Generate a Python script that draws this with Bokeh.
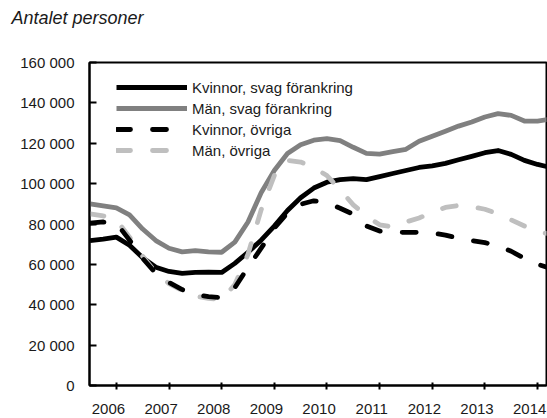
from bokeh.plotting import figure
from bokeh.models import FixedTicker, Legend, LegendItem, Range1d, Label
from bokeh.embed import file_html
from bokeh.resources import INLINE

# ---- data ----
periods = [2005.50, 2005.75, 2006.00, 2006.25, 2006.50, 2006.75, 2007.00, 2007.25, 2007.50,
           2007.75, 2008.00, 2008.25, 2008.50, 2008.75, 2009.00, 2009.25, 2009.50, 2009.75,
           2010.00, 2010.25, 2010.50, 2010.75, 2011.00, 2011.25, 2011.50, 2011.75, 2012.00,
           2012.25, 2012.50, 2012.75, 2013.00, 2013.25, 2013.50, 2013.75, 2014.00, 2014.25]

kvinnor_svag = [71800, 72500, 73500, 69500, 63300, 58600, 56500, 55500, 56000,
                56200, 56000, 60500, 66000, 72000, 79000, 86700, 93000, 97800,
                100700, 102000, 102500, 102000, 103500, 105000, 106500, 108000, 108800,
                110000, 111800, 113500, 115300, 116400, 114500, 111500, 109500, 108000]

man_svag = [90000, 89000, 88000, 84500, 77500, 71800, 68000, 66200, 66800,
            66200, 66000, 71000, 81000, 95500, 106500, 114900, 119300, 121500,
            122300, 121300, 118000, 115000, 114600, 115800, 117000, 121000, 123500,
            126000, 128500, 130500, 133000, 134700, 133800, 131000, 131000, 132000]

kvinnor_ovriga = [80400, 81000, 80500, 72000, 63000, 55500, 51000, 47500, 45000,
                  44000, 43500, 48500, 58500, 68000, 78000, 85500, 89800, 91500,
                  90500, 87800, 84800, 79000, 76500, 75900, 75900, 75900, 75500,
                  74500, 73000, 71800, 70800, 69000, 66500, 63000, 60000, 58000]

man_ovriga = [85000, 84000, 82000, 73500, 64000, 56000, 50500, 47000, 44200,
              43200, 42500, 50000, 65000, 87000, 104000, 111500, 110700, 108000,
              104000, 97000, 89500, 84000, 79600, 78500, 81000, 83000, 85800,
              88200, 89200, 88600, 87300, 85000, 82000, 79000, 76200, 75000]

series_names = ["Kvinnor, svag förankring", "Män, svag förankring",
                "Kvinnor, övriga", "Män, övriga"]

year_ticks = [2006, 2007, 2008, 2009, 2010, 2011, 2012, 2013, 2014]
year_labels = ["2006", "2007", "2008", "2009", "2010", "2011", "2012", "2013", "2014"]

y_ticks = [0, 20000, 40000, 60000, 80000, 100000, 120000, 140000, 160000]
y_labels = ["0", "20 000", "40 000", "60 000", "80 000", "100 000", "120 000",
            "140 000", "160 000"]

title_text = "Antalet personer"

# ---- styling ----
FONT = "Liberation Sans"
TXT = "#1a1a1a"

p = figure(frame_width=457, frame_height=323,
           min_border_left=89, min_border_top=62, min_border_right=1, min_border_bottom=33,
           output_backend="svg", toolbar_location=None,
           x_range=Range1d(2005.49, 2014.17), y_range=Range1d(0, 160000))

p.outline_line_color = "black"
p.outline_line_width = 2
p.xgrid.visible = False
p.ygrid.visible = False
p.background_fill_color = "white"
p.border_fill_color = "white"

# y axis
p.yaxis.ticker = FixedTicker(ticks=y_ticks)
p.yaxis.major_label_overrides = {t: l for t, l in zip(y_ticks, y_labels)}
p.yaxis.axis_line_width = 2
p.yaxis.axis_line_color = "black"
p.yaxis.major_tick_in = 7
p.yaxis.major_tick_out = 0
p.yaxis.major_tick_line_width = 2
p.yaxis.minor_tick_line_color = None
p.yaxis.major_label_standoff = 15
p.yaxis.major_label_text_font = FONT
p.yaxis.major_label_text_font_size = "15px"
p.yaxis.major_label_text_color = TXT

# x axis: labels slightly left of the tick marks (as in the reference)
label_pos = [y - 0.15 for y in year_ticks]
p.xaxis.ticker = FixedTicker(ticks=label_pos, minor_ticks=year_ticks)
p.xaxis.major_label_overrides = {t: l for t, l in zip(label_pos, year_labels)}
p.xaxis.axis_line_width = 2
p.xaxis.axis_line_color = "black"
p.xaxis.major_tick_line_color = None
p.xaxis.minor_tick_in = 3
p.xaxis.minor_tick_out = 4
p.xaxis.minor_tick_line_width = 2
p.xaxis.minor_tick_line_color = "black"
p.xaxis.major_label_standoff = 12
p.xaxis.major_label_text_font = FONT
p.xaxis.major_label_text_font_size = "15px"
p.xaxis.major_label_text_color = TXT

LW = 4.8
r_ms = p.line(periods, man_svag, line_color="#808080", line_width=LW, line_join="round")
r_ks = p.line(periods, kvinnor_svag, line_color="black", line_width=LW, line_join="round")
r_mo = p.line(periods, man_ovriga, line_color="#bfbfbf", line_width=LW,
              line_dash="14 22", line_cap="round", line_join="round")
r_ko = p.line(periods, kvinnor_ovriga, line_color="black", line_width=LW,
              line_dash="14 22", line_cap="round", line_join="round")

legend = Legend(items=[LegendItem(label=series_names[0], renderers=[r_ks]),
                       LegendItem(label=series_names[1], renderers=[r_ms]),
                       LegendItem(label=series_names[2], renderers=[r_ko]),
                       LegendItem(label=series_names[3], renderers=[r_mo])],
                location=(27, 225))
legend.border_line_color = None
legend.background_fill_alpha = 0
legend.padding = 0
legend.margin = 0
legend.spacing = 1
legend.glyph_width = 71
legend.glyph_height = 20
legend.label_height = 20
legend.label_standoff = 5
legend.label_text_font = FONT
legend.label_text_font_size = "15px"
legend.label_text_color = TXT
p.add_layout(legend, "center")

title = Label(x=-78, y=35, x_units="screen", y_units="screen", text=title_text,
              text_font=FONT, text_font_style="italic", text_font_size="18px",
              text_color=TXT, text_baseline="bottom", text_align="left")
p.add_layout(title, "above")

open("out.html", "w").write(file_html(p, INLINE))
